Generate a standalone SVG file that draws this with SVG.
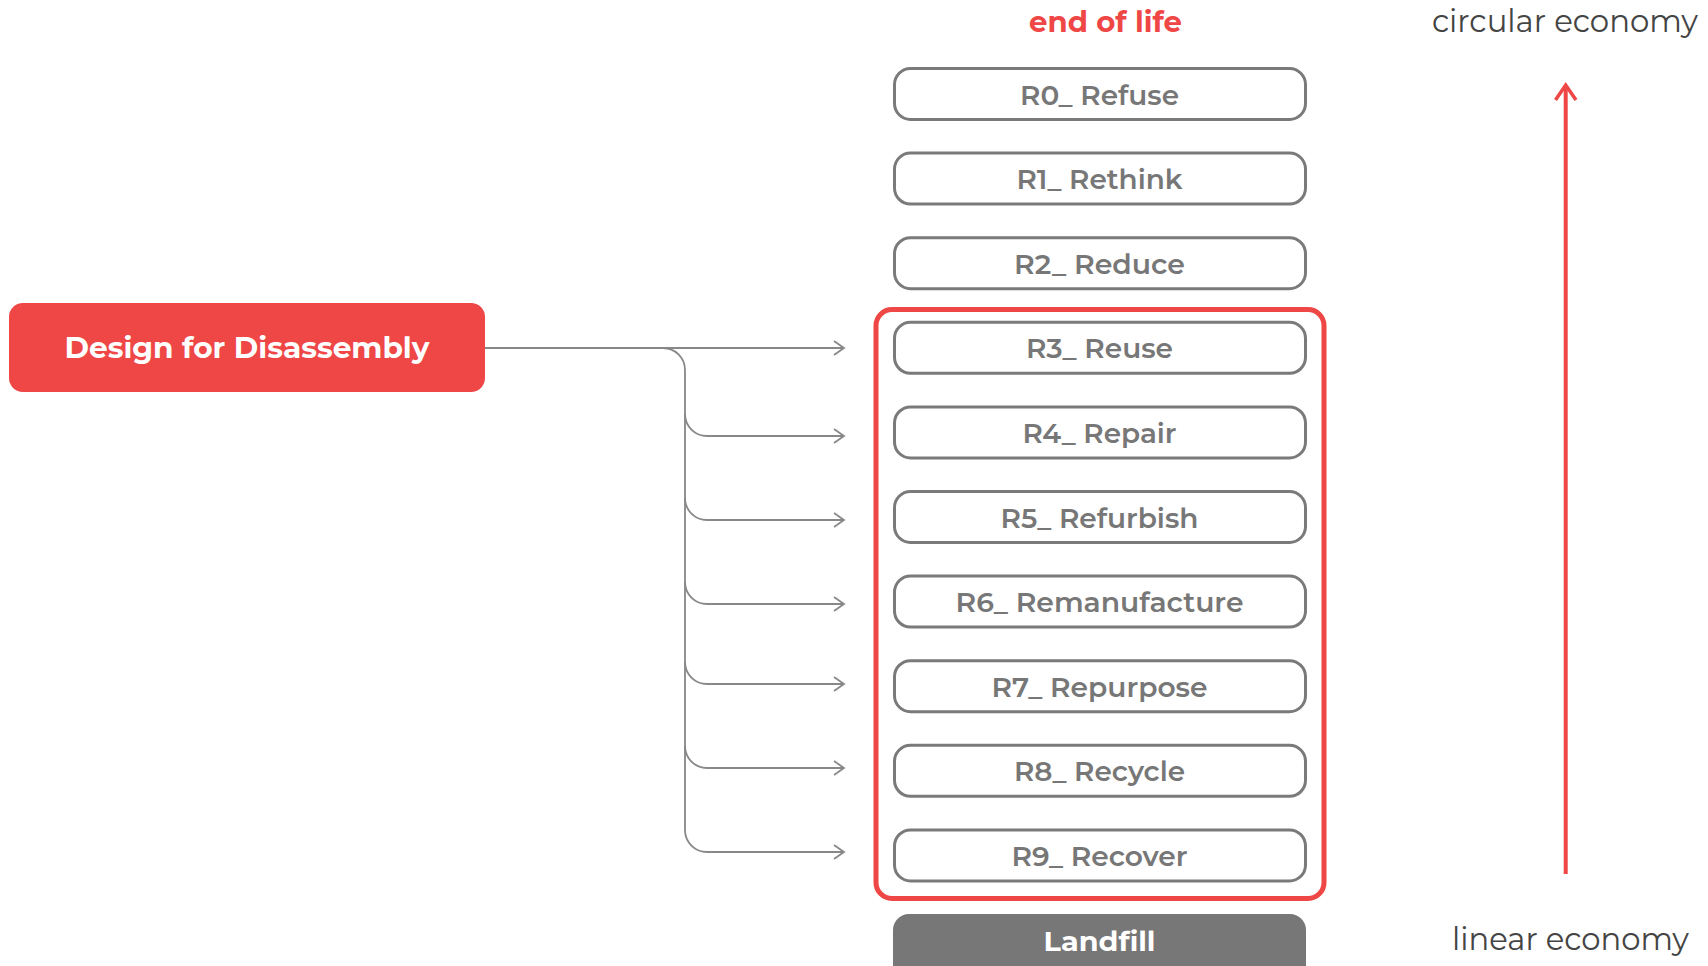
<svg xmlns="http://www.w3.org/2000/svg" width="1708" height="966" viewBox="0 0 1708 966">
<style>
.bx{fill:#fff;stroke:#7a7a7a;stroke-width:3}
.lb{font-family:"Montserrat","Open Sans","Liberation Sans",sans-serif;font-weight:600;font-size:28px;fill:#777;text-anchor:middle}
.wt{font-family:"Montserrat","Open Sans","Liberation Sans",sans-serif;font-weight:700;fill:#fff;text-anchor:middle}
.ax{font-family:"Montserrat","Open Sans","Liberation Sans",sans-serif;font-weight:400;font-size:32px;fill:#444}
.cn{fill:none;stroke:#888;stroke-width:1.8}
</style>
<defs>
<marker id="chev" markerUnits="userSpaceOnUse" markerWidth="14" markerHeight="18" refX="11" refY="8" orient="auto" overflow="visible">
<path d="M1,1 L11,8 L1,15" fill="none" stroke="#888" stroke-width="1.8"/>
</marker>
</defs>
<rect width="1708" height="966" fill="#fff"/>

<text x="1105.5" y="32" font-family="Montserrat,'Open Sans','Liberation Sans',sans-serif" font-weight="700" font-size="29" fill="#EF4646" text-anchor="middle" textLength="153" lengthAdjust="spacingAndGlyphs">end of life</text>
<text class="ax" x="1432" y="32" textLength="266" lengthAdjust="spacingAndGlyphs">circular economy</text>
<text class="ax" x="1452" y="950" textLength="237" lengthAdjust="spacingAndGlyphs">linear economy</text>

<g id="scale-arrow">
<line x1="1565.7" y1="874" x2="1565.7" y2="86" stroke="#EF4646" stroke-width="4"/>
<path d="M1555.5,100 L1565.7,85 L1576,100" fill="none" stroke="#EF4646" stroke-width="3.5"/>
</g>

<g id="frame">
<rect x="876" y="309.5" width="448" height="589" rx="16" fill="none" stroke="#EF4646" stroke-width="5"/>
</g>

<g id="design">
<rect x="9" y="303" width="476" height="89" rx="14" fill="#EF4646"/>
<text class="wt" x="247" y="358" font-size="29" textLength="365" lengthAdjust="spacingAndGlyphs">Design for Disassembly</text>
</g>

<g id="r0"><rect class="bx" x="894.5" y="68.5" width="411" height="51" rx="16"/><text class="lb" x="1099.5" y="104.5" textLength="159" lengthAdjust="spacingAndGlyphs">R0_ Refuse</text></g>
<g id="r1"><rect class="bx" x="894.5" y="153.1" width="411" height="51" rx="16"/><text class="lb" x="1099.5" y="189.1" textLength="166" lengthAdjust="spacingAndGlyphs">R1_ Rethink</text></g>
<g id="r2"><rect class="bx" x="894.5" y="237.7" width="411" height="51" rx="16"/><text class="lb" x="1099.5" y="273.7" textLength="171" lengthAdjust="spacingAndGlyphs">R2_ Reduce</text></g>
<g id="r3"><rect class="bx" x="894.5" y="322.3" width="411" height="51" rx="16"/><text class="lb" x="1099.5" y="358.3" textLength="147" lengthAdjust="spacingAndGlyphs">R3_ Reuse</text></g>
<g id="r4"><rect class="bx" x="894.5" y="406.9" width="411" height="51" rx="16"/><text class="lb" x="1099.5" y="442.9" textLength="154" lengthAdjust="spacingAndGlyphs">R4_ Repair</text></g>
<g id="r5"><rect class="bx" x="894.5" y="491.5" width="411" height="51" rx="16"/><text class="lb" x="1099.5" y="527.5" textLength="198" lengthAdjust="spacingAndGlyphs">R5_ Refurbish</text></g>
<g id="r6"><rect class="bx" x="894.5" y="576.1" width="411" height="51" rx="16"/><text class="lb" x="1099.5" y="612.1" textLength="288" lengthAdjust="spacingAndGlyphs">R6_ Remanufacture</text></g>
<g id="r7"><rect class="bx" x="894.5" y="660.7" width="411" height="51" rx="16"/><text class="lb" x="1099.5" y="696.7" textLength="216" lengthAdjust="spacingAndGlyphs">R7_ Repurpose</text></g>
<g id="r8"><rect class="bx" x="894.5" y="745.3" width="411" height="51" rx="16"/><text class="lb" x="1099.5" y="781.3" textLength="171" lengthAdjust="spacingAndGlyphs">R8_ Recycle</text></g>
<g id="r9"><rect class="bx" x="894.5" y="829.9" width="411" height="51" rx="16"/><text class="lb" x="1099.5" y="865.9" textLength="176" lengthAdjust="spacingAndGlyphs">R9_ Recover</text></g>

<g id="landfill">
<rect x="893" y="914" width="413" height="80" rx="16" fill="#777"/>
<text class="wt" x="1099.5" y="951" font-size="28" textLength="112" lengthAdjust="spacingAndGlyphs">Landfill</text>
</g>

<g id="connectors">
<path class="cn" d="M485,348 H844" marker-end="url(#chev)"/>
<path class="cn" d="M663,348 A22,22 0 0 1 685,370 V830"/>
<path class="cn" d="M685,414 A22,22 0 0 0 707,436 H844" marker-end="url(#chev)"/>
<path class="cn" d="M685,498 A22,22 0 0 0 707,520 H844" marker-end="url(#chev)"/>
<path class="cn" d="M685,582 A22,22 0 0 0 707,604 H844" marker-end="url(#chev)"/>
<path class="cn" d="M685,662 A22,22 0 0 0 707,684 H844" marker-end="url(#chev)"/>
<path class="cn" d="M685,746 A22,22 0 0 0 707,768 H844" marker-end="url(#chev)"/>
<path class="cn" d="M685,830 A22,22 0 0 0 707,852 H844" marker-end="url(#chev)"/>
</g>
</svg>
